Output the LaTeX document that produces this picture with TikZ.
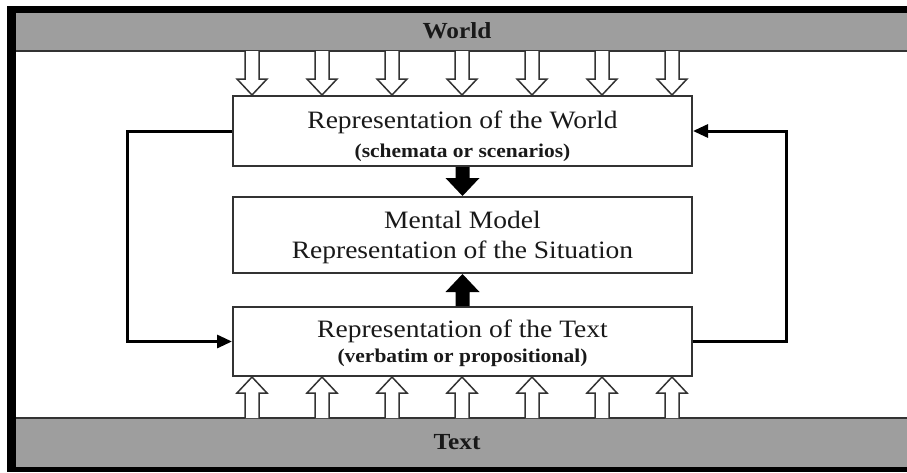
\documentclass[tikz,border=0pt]{standalone}
\usepackage{fontspec}
\setmainfont[FakeStretch=1.1]{Liberation Serif}
\usetikzlibrary{arrows.meta,calc}
\definecolor{band}{gray}{0.62}
\definecolor{edge}{gray}{0.2}
\begin{document}
\begin{tikzpicture}[x=1pt,y=-1pt,
  box/.style={draw=edge, line width=2pt, minimum width=459pt, inner sep=0pt, fill=white},
  mainlbl/.style={anchor=base, inner sep=0pt, text=black!90, font=\fontsize{25}{25}\selectfont},
  sublbl/.style={anchor=base, inner sep=0pt, text=black!90, font=\bfseries\fontsize{19.5}{19.5}\selectfont},
  bandlbl/.style={anchor=base, inner sep=0pt, text=black!90, font=\bfseries\fontsize{23}{23}\selectfont},
  loopline/.style={line width=3pt, black, -{Triangle[length=15pt,width=13pt]}},
  hollow/.style={draw=edge, fill=white, line width=1.5pt, line join=miter},
  solid arrow/.style={fill=black}
]
\useasboundingbox (0,0) rectangle (907,472);
\fill[white] (0,0) rectangle (907,472);
% bands
\fill[band] (16,13) rectangle (907,52);
\fill[band] (16,417) rectangle (907,467);
\draw[edge, line width=2pt] (16,51) -- (907,51);
\draw[edge, line width=2pt] (16,418) -- (907,418);
% black frame
\fill[black] (7,6) rectangle (907,13);
\fill[black] (7,6) rectangle (16,472);
\fill[black] (7,467) rectangle (907,472);
% band labels
\node[bandlbl] (worldlbl) at (457,38) {World};
\node[bandlbl] (textlbl) at (457,449) {Text};
% boxes
\node[box, minimum height=70pt] (rw) at (462.5,131) {};
\node[mainlbl] (rw1) at (462.5,128) {Representation of the World};
\node[sublbl] (rw2) at (462.5,157) {(schemata or scenarios)};
\node[box, minimum height=76pt] (mm) at (462.5,235) {};
\node[mainlbl] (mm1) at (462.5,228) {Mental Model};
\node[mainlbl] (mm2) at (462.5,258) {Representation of the Situation};
\node[box, minimum height=69pt] (rt) at (462.5,341.5) {};
\node[mainlbl] (rt1) at (462.5,337) {Representation of the Text};
\node[sublbl] (rt2) at (462.5,362) {(verbatim or propositional)};
% hollow arrows from World
\foreach \i in {0,...,6}{
  \coordinate (tp\i) at ($(rw.north west)+(20+70*\i,0)$);
  \draw[hollow] ($(tp\i)+(-7,-44)$) -- ($(tp\i)+(-7,-16)$) -- ($(tp\i)+(-15,-16)$) -- (tp\i)
     -- ($(tp\i)+(15,-16)$) -- ($(tp\i)+(7,-16)$) -- ($(tp\i)+(7,-44)$);
  \coordinate (bp\i) at ($(rt.south west)+(20+70*\i,0)$);
  \draw[hollow] ($(bp\i)+(-7,41)$) -- ($(bp\i)+(-7,16)$) -- ($(bp\i)+(-15,16)$) -- (bp\i)
     -- ($(bp\i)+(15,16)$) -- ($(bp\i)+(7,16)$) -- ($(bp\i)+(7,41)$);
}
% solid arrows
\fill[solid arrow] ($(rw.south)+(-7,0)$) -- ($(rw.south)+(7,0)$) -- ($(mm.north)+(7,-18)$)
  -- ($(mm.north)+(17,-18)$) -- (mm.north) -- ($(mm.north)+(-17,-18)$) -- ($(mm.north)+(-7,-18)$) -- cycle;
\fill[solid arrow] ($(rt.north)+(-7,0)$) -- ($(rt.north)+(7,0)$) -- ($(mm.south)+(7,18)$)
  -- ($(mm.south)+(17,18)$) -- (mm.south) -- ($(mm.south)+(-17,18)$) -- ($(mm.south)+(-7,18)$) -- cycle;
% feedback loops
\draw[loopline] (rw.west) -- ++(-105,0) |- (rt.west);
\draw[loopline] (rt.east) -- ++(93,0) |- (rw.east);
\end{tikzpicture}
\end{document}
